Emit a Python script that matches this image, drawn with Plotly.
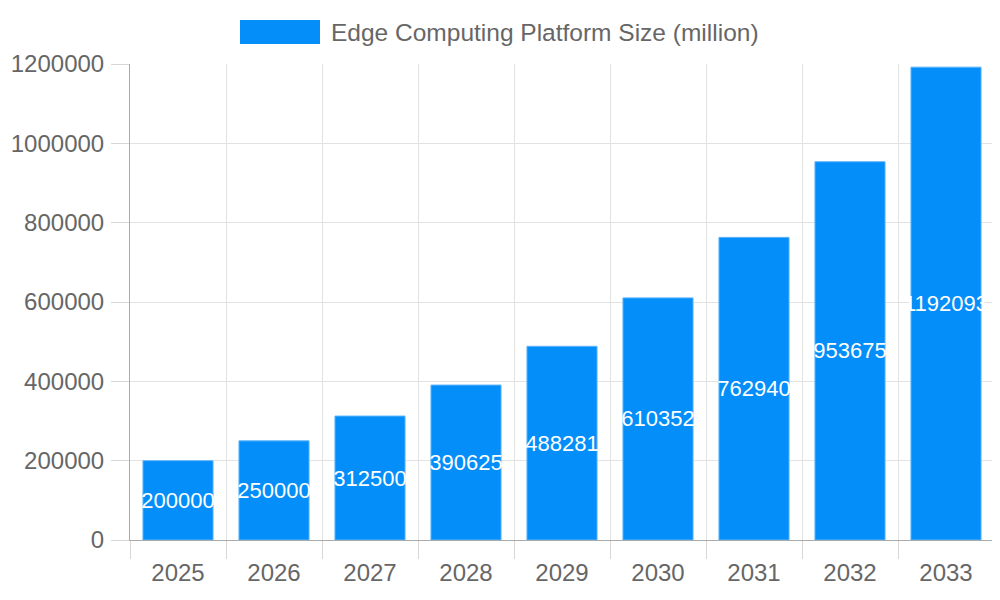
import plotly.graph_objects as go

years = ["2025", "2026", "2027", "2028", "2029", "2030", "2031", "2032", "2033"]
platform_size = [200000, 250000, 312500, 390625, 488281, 610352, 762940, 953675, 1192093]
series_name = "Edge Computing Platform Size (million)"

BAR_COLOR = "#038ef9"
TEXT_COLOR = "#666666"
GRID_COLOR = "#e2e2e2"
TICK_COLOR = "#d6d6d6"
FONT = "Liberation Sans, Arial, sans-serif"

# plot area in page pixels (the page body has an 8px margin)
PX_L, PX_R, PX_T, PX_B = 130, 994, 64, 540


def px_x(x):
    return (x - PX_L) / (PX_R - PX_L)


def px_y(y):
    return (PX_B - y) / (PX_B - PX_T)


fig = go.Figure()

# bars with the value printed in the middle of each bar
fig.add_trace(go.Bar(
    x=years,
    y=platform_size,
    name=series_name,
    marker=dict(color=BAR_COLOR, line=dict(color="#5fb4fb", width=1)),
    text=[str(v) for v in platform_size],
    textposition="inside",
    insidetextanchor="middle",
    textangle=0,
    textfont=dict(color="white", size=22, family=FONT),
    hoverinfo="x+y",
))

# legend drawn by hand so the colour box has the wide chart.js shape
fig.add_shape(type="rect", xref="paper", yref="paper",
              x0=px_x(240), x1=px_x(320), y0=px_y(44), y1=px_y(20),
              fillcolor=BAR_COLOR, line=dict(width=0))
fig.add_annotation(xref="paper", yref="paper",
                   x=px_x(329), y=px_y(32),
                   text=series_name, showarrow=False,
                   xanchor="left", yanchor="middle",
                   font=dict(size=24.5, color=TEXT_COLOR, family=FONT))

fig.update_layout(
    width=992,
    height=592,
    margin=dict(l=PX_L - 8, r=1000 - PX_R, t=PX_T - 8, b=600 - PX_B),
    plot_bgcolor="white",
    paper_bgcolor="white",
    showlegend=False,
    bargap=0.27,
    font=dict(family=FONT, color=TEXT_COLOR, size=24),
    uniformtext=dict(mode="show", minsize=22),
    xaxis=dict(
        type="category",
        tickson="boundaries",
        automargin=False,
        showgrid=True,
        gridcolor=GRID_COLOR,
        gridwidth=1,
        ticks="outside",
        ticklen=18,
        tickcolor=TICK_COLOR,
        showline=True,
        linecolor="#aaaaaa",
        linewidth=1,
        tickfont=dict(size=24, color=TEXT_COLOR),
        ticklabelstandoff=11,
    ),
    yaxis=dict(
        range=[0, 1200000],
        dtick=200000,
        tickformat="d",
        automargin=False,
        showgrid=True,
        gridcolor=GRID_COLOR,
        gridwidth=1,
        ticks="outside",
        ticklen=18,
        tickcolor=TICK_COLOR,
        showline=True,
        linecolor="#aaaaaa",
        linewidth=1,
        zeroline=False,
        tickfont=dict(size=24, color=TEXT_COLOR),
        ticklabelstandoff=2,
    ),
)

fig.write_html("out.html")
